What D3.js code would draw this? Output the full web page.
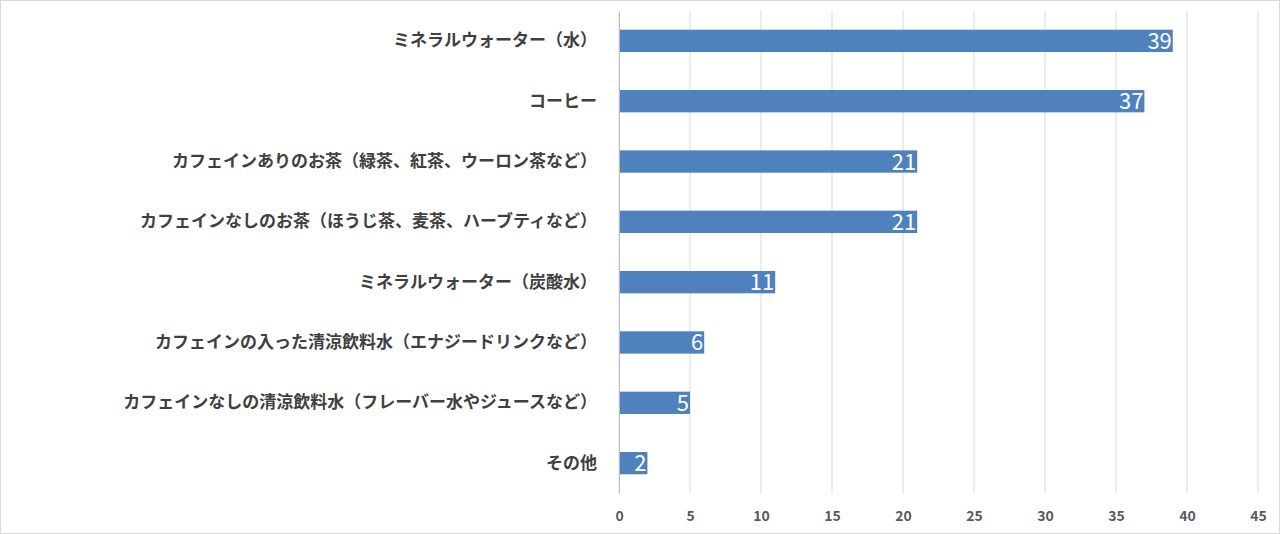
<!DOCTYPE html>
<html><head><meta charset="utf-8">
<script src="https://cdn.jsdelivr.net/npm/d3@7"></script>
<style>body{margin:0;background:#fff}</style>
</head><body>
<svg id="c" width="1280" height="534"></svg>
<script>
const categories = [
  "ミネラルウォーター（水）",
  "コーヒー",
  "カフェインありのお茶（緑茶、紅茶、ウーロン茶など）",
  "カフェインなしのお茶（ほうじ茶、麦茶、ハーブティなど）",
  "ミネラルウォーター（炭酸水）",
  "カフェインの入った清涼飲料水（エナジードリンクなど）",
  "カフェインなしの清涼飲料水（フレーバー水やジュースなど）",
  "その他"
];
const values = [39, 37, 21, 21, 11, 6, 5, 2];
const ticks = [0, 5, 10, 15, 20, 25, 30, 35, 40, 45];

const svg = d3.select("#c");
const font = "'Noto Sans CJK JP', sans-serif";
svg.append("rect").attr("x", 0.5).attr("y", 0.5).attr("width", 1279).attr("height", 533)
  .attr("fill", "#fff").attr("stroke", "#d9d9d9");

const x = d3.scaleLinear().domain([0, 45]).range([619, 1258]);
const y = d3.scaleBand().domain(categories).range([11, 493]).paddingInner(0.63).paddingOuter(0.31);

svg.append("g").selectAll("line").data(ticks).join("line")
  .attr("x1", d => x(d)).attr("x2", d => x(d)).attr("y1", 11).attr("y2", 493)
  .attr("stroke", "#d9d9d9");

const xa = svg.append("g").attr("transform", "translate(0,493)")
  .call(d3.axisBottom(x).tickValues(ticks).tickSize(0).tickPadding(18));
xa.select(".domain").remove();
xa.selectAll("text").attr("font-family", font).attr("font-size", 14).attr("font-weight", "bold").attr("fill", "#595959");

svg.append("g").selectAll("rect").data(values).join("rect")
  .attr("x", x(0)).attr("y", (d, i) => y(categories[i]))
  .attr("width", d => x(d) - x(0)).attr("height", y.bandwidth())
  .attr("fill", "#4f81bd");

svg.append("g").selectAll("text").data(values).join("text")
  .attr("x", d => x(d) - 1).attr("y", (d, i) => y(categories[i]) + y.bandwidth() / 2 + 8)
  .attr("text-anchor", "end").attr("fill", "#fff").attr("font-family", font).attr("font-size", 22)
  .text(d => d);

const ya = svg.append("g").attr("transform", "translate(619,0)")
  .call(d3.axisLeft(y).tickSize(0).tickPadding(22));
ya.select(".domain").attr("stroke", "#bfbfbf");
ya.selectAll("text").attr("font-family", font).attr("font-size", 17).attr("font-weight", "bold").attr("fill", "#404040");
</script>
</body></html>
